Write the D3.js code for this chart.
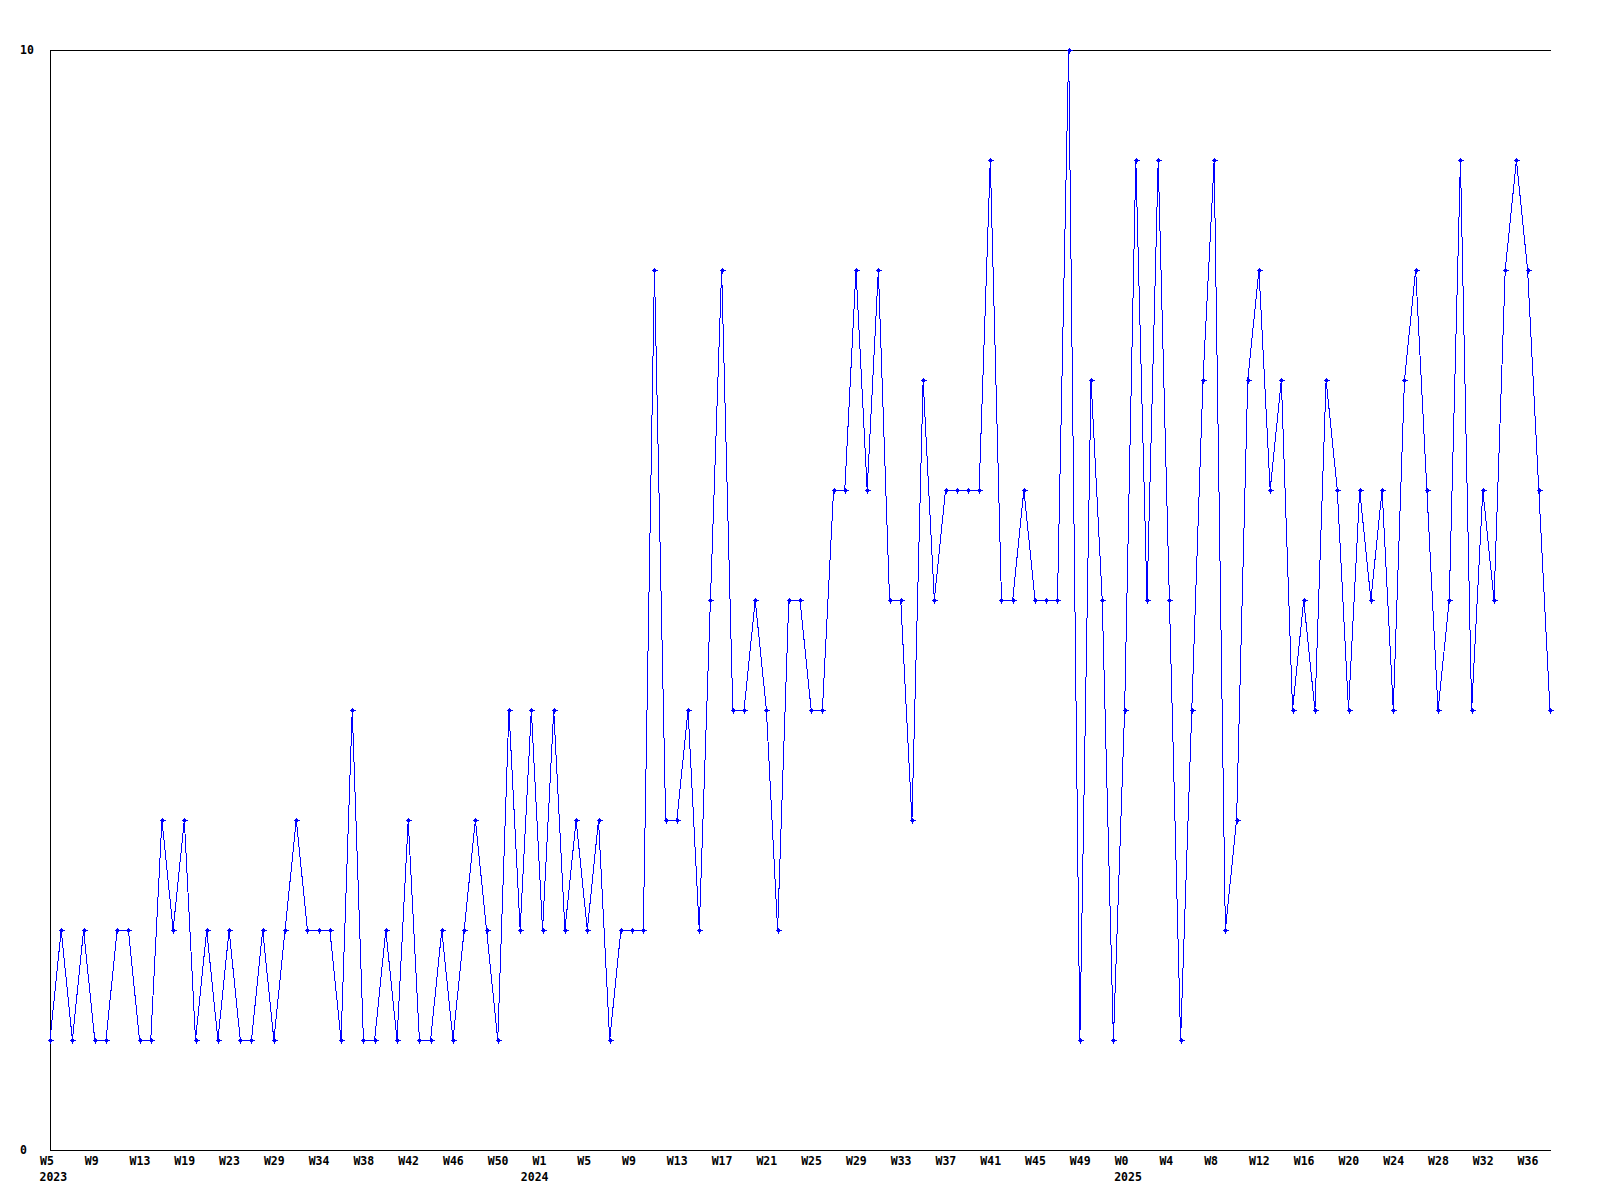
<!DOCTYPE html>
<html>
<head>
<meta charset="utf-8">
<script src="https://cdn.jsdelivr.net/npm/d3@7"></script>
<style>
  html, body { margin: 0; padding: 0; background: #fff; }
  svg { display: block; }
  text { font-family: "DejaVu Sans Mono", "Liberation Mono", monospace; font-weight: bold; font-size: 11.5px; fill: #000; }
</style>
</head>
<body>
<script>
// Weekly series values (one point per week present in the data)
const values = [
  1,2,1,2,1,1,2,2,1,1,3,2,3,1,2,1,2,1,1,2,1,2,3,2,2,2,1,4,1,1,
  2,1,3,1,1,2,1,2,3,2,1,4,2,4,2,4,2,3,2,3,1,2,2,2,8,3,3,4,2,5,
  8,4,4,5,4,2,5,5,4,4,6,6,8,6,8,5,5,3,7,5,6,6,6,6,9,5,5,6,5,5,
  5,10,1,7,5,1,4,9,5,9,5,1,4,7,9,2,3,7,8,6,7,4,5,4,7,6,4,6,5,6,
  4,7,8,6,4,5,9,4,6,5,8,9,8,6,4
];
// x tick labels, one every 4th point
const tickEvery = 4;
const tickLabels = [
  "W5","W9","W13","W19","W23","W29","W34","W38","W42","W46","W50",
  "W1","W5","W9","W13","W17","W21","W25","W29","W33","W37","W41","W45","W49",
  "W0","W4","W8","W12","W16","W20","W24","W28","W32","W36"
];
// year labels and the point index where each year starts
const yearLabels = ["2023","2024","2025"];
const yearStarts = [0, 43, 96];
// y axis labels
const yLabels = [0, 10];

const W = 1600, H = 1200;
const mLeft = 50, mRight = 1550, mTop = 50, mBottom = 1150;

const svg = d3.select("body").append("svg")
  .attr("width", W).attr("height", H)
  .style("background", "#fff");

const idx = d3.range(values.length);
const x = d3.scalePoint().domain(idx).range([mLeft, mRight]);
const y = d3.scaleLinear().domain([0, 10]).range([mBottom, mTop]);

// frame lines (left, top, bottom)
const frame = svg.append("g").attr("shape-rendering", "crispEdges")
  .attr("stroke", "#000").attr("stroke-width", 1);
frame.append("line").attr("x1", mLeft + 0.5).attr("x2", mLeft + 0.5).attr("y1", mTop).attr("y2", mBottom + 0.5);
frame.append("line").attr("x1", mLeft).attr("x2", mRight + 0.5).attr("y1", mTop + 0.5).attr("y2", mTop + 0.5);
frame.append("line").attr("x1", mLeft).attr("x2", mRight + 0.5).attr("y1", mBottom + 0.5).attr("y2", mBottom + 0.5);

// x axis via d3 axis, labels left-anchored
const tickIdx = idx.filter(i => i % tickEvery === 0);
const xAxis = d3.axisBottom(x)
  .tickValues(tickIdx)
  .tickSize(0)
  .tickFormat(i => tickLabels[i / tickEvery]);
const gx = svg.append("g").attr("transform", `translate(0,${mBottom})`).call(xAxis);
gx.select(".domain").remove();
gx.selectAll("text")
  .attr("text-anchor", "start")
  .attr("dx", -10.5)
  .attr("y", 15)
  .attr("dy", 0)
  .attr("fill", "#000")
  .style("font-family", "\"DejaVu Sans Mono\", monospace")
  .style("font-weight", "bold")
  .style("font-size", "11.5px");

// year labels
svg.append("g").selectAll("text").data(yearLabels).join("text")
  .attr("x", (d, i) => x(yearStarts[i]) - 10.5)
  .attr("y", mBottom + 31)
  .attr("text-anchor", "start")
  .text(d => d);

// y labels
svg.append("g").selectAll("text").data(yLabels).join("text")
  .attr("x", 20)
  .attr("y", d => y(d) + 4)
  .attr("text-anchor", "start")
  .text(d => d);

// line
const line = d3.line().x((d, i) => x(i)).y(d => y(d));
svg.append("path")
  .datum(values)
  .attr("d", line)
  .attr("fill", "none")
  .attr("stroke", "#0000ff")
  .attr("stroke-width", 1)
  .attr("shape-rendering", "crispEdges");

// point markers: small crosses
const marks = svg.append("g").attr("fill", "#0000ff").attr("stroke", "#0000ff")
  .attr("shape-rendering", "crispEdges");
marks.selectAll("path").data(values).join("path")
  .attr("transform", (d, i) => `translate(${Math.round(x(i))},${Math.round(y(d))})`)
  .attr("stroke-width", 1)
  .attr("d", "M-2.5,0.5H3.5M0.5,-2.5V3.5M-0.5,-0.5h2v2h-2z");
</script>
</body>
</html>
